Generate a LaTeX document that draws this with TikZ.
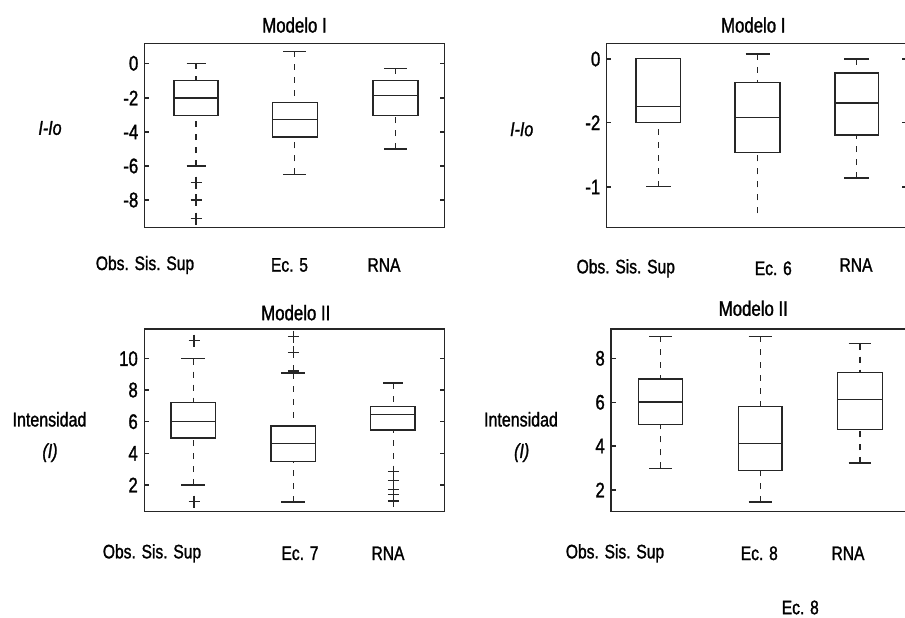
\documentclass[tikz,border=0pt]{standalone}
\usepackage{fontspec}
\setmainfont{Liberation Sans}[FakeStretch=0.8,FakeBold=1.3]
\begin{document}
\begin{tikzpicture}[x=1pt,y=-1pt,
  frm/.style={line width=1.4pt,draw=black!85},
  boxst/.style={line width=1.3pt,draw=black!85},
  whisk/.style={line width=1.3pt,draw=black!85,dash pattern=on 6pt off 7pt},
  tck/.style={inner sep=0pt,anchor=east,font=\fontsize{21}{21}\selectfont},
  xl/.style={inner sep=0pt,font=\fontsize{19.5}{20}\selectfont},
  ttl/.style={inner sep=0pt,font=\fontsize{21}{21}\selectfont},
  yl/.style={inner sep=0pt,font=\fontsize{20}{20}\selectfont}]
\useasboundingbox[fill=white] (0,0) rectangle (905,618);
\newcommand\BoxPlt[8]{%
  \draw[boxst] (#1-#2,#3) rectangle (#1+#2,#5);
  \draw[boxst] (#1-#2,#4) -- (#1+#2,#4);
  \draw[whisk] (#1,#6) -- (#1,#3);
  \draw[whisk] (#1,#7) -- (#1,#5);
  \draw[boxst] (#1-#8,#6) -- (#1+#8,#6);
  \draw[boxst] (#1-#8,#7) -- (#1+#8,#7);}
\newcommand\PlusMk[2]{\draw[boxst] (#1-5.5,#2) -- (#1+5.5,#2) (#1,#2-6) -- (#1,#2+6);}

% ---------- top left ----------
\node[ttl] (t1) at (294.5,25) {Modelo I};
\draw[frm] (144.3,43.3) rectangle (444.3,227.7);
\foreach \yy/\lab [count=\i] in {63.3/0,98/-2,132/-4,166/-6,200/-8}{
  \draw[frm] (144.3,\yy) -- (149,\yy) (444.3,\yy) -- (439.6,\yy);
  \node[tck] (ta\i) at (138.5,\yy) {\lab};}
\BoxPlt{196}{22}{80.3}{98}{115.7}{63.3}{166}{9.5}
\PlusMk{196}{182.7}\PlusMk{196}{200}\PlusMk{196}{218.7}
\BoxPlt{294.7}{22.5}{102.3}{119.3}{137}{51.3}{174.3}{11.5}
\BoxPlt{395.5}{22.5}{80.3}{95.7}{115.7}{68.3}{149}{11.5}
\node[yl] (ya) at (50,128) {\itshape I-Io};
\node[xl] (xa1) at (145,265) {Obs. Sis. Sup};
\node[xl] (xa2) at (289.5,265) {Ec. 5};
\node[xl] (xa3) at (384,265) {RNA};

% ---------- top right ----------
\node[ttl] (t2) at (753.3,25) {Modelo I};
\draw[frm] (606.5,43.3) rectangle (906.5,227.7);
\foreach \yy/\lab [count=\i] in {59/0,122.7/-2,187/-1}{
  \draw[frm] (606.5,\yy) -- (611,\yy) (906.5,\yy) -- (902,\yy);
  \node[tck] (tb\i) at (600.5,\yy) {\lab};}
% box A (no upper whisker)
\draw[boxst] (636,58.3) rectangle (680.7,122.7);
\draw[boxst] (636,106.7) -- (680.7,106.7);
\draw[whisk] (658.3,186.7) -- (658.3,122.7);
\draw[boxst] (646,186.7) -- (670.7,186.7);
% box B (no lower cap)
\draw[boxst] (735,82.7) rectangle (780,152.3);
\draw[boxst] (735,117.3) -- (780,117.3);
\draw[whisk] (757.7,54) -- (757.7,82.7);
\draw[boxst] (745.5,54) -- (769.5,54);
\draw[whisk] (757.7,213.3) -- (757.7,152.3);
% box C
\BoxPlt{856.7}{21.7}{73}{103}{135}{59}{178}{12.3}
\node[yl] (yb) at (521.7,129.3) {\itshape I-Io};
\node[xl] (xb1) at (625.8,268.3) {Obs. Sis. Sup};
\node[xl] (xb2) at (773.3,268.3) {Ec. 6};
\node[xl] (xb3) at (856,265) {RNA};

% ---------- bottom left ----------
\node[ttl] (t3) at (295.8,312.7) {Modelo II};
\draw[frm] (144.3,329) rectangle (444.3,511.7);
\foreach \yy/\lab [count=\i] in {358.7/10,390/8,421.7/6,453.3/4,485/2}{
  \draw[frm] (144.3,\yy) -- (149,\yy) (444.3,\yy) -- (439.6,\yy);
  \node[tck] (tc\i) at (138,\yy) {\lab};}
\BoxPlt{193.3}{22.2}{402.7}{421.3}{438}{358.7}{485}{12}
\PlusMk{194}{340.7}\PlusMk{194}{501.7}
\BoxPlt{293.3}{22.2}{426}{443.7}{461.3}{373}{502}{12}
\PlusMk{293.3}{336.7}\PlusMk{293.3}{352.3}\PlusMk{293.3}{371}
\draw[boxst] (370.7,406.3) rectangle (415,430);
\draw[boxst] (370.7,414.3) -- (415,414.3);
\draw[whisk] (393.3,383) -- (393.3,406.3);
\draw[boxst] (383.3,383) -- (403.3,383);
\draw[whisk] (393.3,471.7) -- (393.3,430);
\PlusMk{393.3}{471.7}\PlusMk{393.3}{480.7}\PlusMk{393.3}{489.5}\PlusMk{393.3}{494.5}\PlusMk{393.3}{501}
\node[yl] (yc1) at (49.5,419.3) {Intensidad};
\node[yl] (yc2) at (50,452.7) {\itshape (I)};
\node[xl] (xc1) at (152,553.3) {Obs. Sis. Sup};
\node[xl] (xc2) at (300,553.3) {Ec. 7};
\node[xl] (xc3) at (388,553.3) {RNA};

% ---------- bottom right ----------
\node[ttl] (t4) at (753.3,308.3) {Modelo II};
\draw[frm] (611,329) rectangle (912,511.7);
\foreach \yy/\lab [count=\i] in {358.3/8,402.3/6,446/4,490/2}{
  \draw[frm] (611,\yy) -- (615.5,\yy);
  \node[tck] (td\i) at (605,\yy) {\lab};}
\BoxPlt{660.3}{22}{379}{402}{424.7}{336.3}{468.3}{11.2}
\BoxPlt{760.2}{21.8}{406.7}{443.3}{470.3}{336.3}{502}{11.7}
\BoxPlt{860}{22.3}{372.7}{399.3}{429.7}{343.7}{463}{11.4}
\node[yl] (yd1) at (521,419.3) {Intensidad};
\node[yl] (yd2) at (521.7,452.7) {\itshape (I)};
\node[xl] (xd1) at (615,553.3) {Obs. Sis. Sup};
\node[xl] (xd2) at (759.3,553.3) {Ec. 8};
\node[xl] (xd3) at (848,553.3) {RNA};
\node[xl] (xd4) at (800.3,607.5) {Ec. 8};
\end{tikzpicture}
\end{document}
